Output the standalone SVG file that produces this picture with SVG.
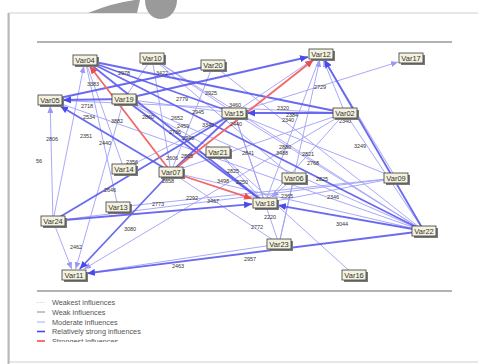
<svg xmlns="http://www.w3.org/2000/svg" width="478" height="364" viewBox="0 0 478 364">
<defs>
<style>
.m{stroke:#a0a0f7;stroke-width:1;fill:none;stroke-opacity:.9}
.s{stroke:#5a5af0;stroke-width:1.8;fill:none;stroke-opacity:.9}
.r{stroke:#f36868;stroke-width:1.8;fill:none}
.lbl{font-family:"Liberation Sans",Arial,sans-serif;font-size:5.5px;fill:#333;text-anchor:middle;dominant-baseline:central}
.nt{font-family:"Liberation Sans",Arial,sans-serif;font-size:7.5px;fill:#333;text-anchor:middle;dominant-baseline:central}
.box{fill:#f4f2de;stroke:#3a3a3a;stroke-width:.8}
.sh{fill:#7a7a7a}
.lg{font-family:"Liberation Sans",Arial,sans-serif;font-size:7.3px;fill:#555;dominant-baseline:central}
</style>
<marker id="am" markerUnits="userSpaceOnUse" markerWidth="7" markerHeight="6" refX="7" refY="3" orient="auto"><path d="M0,0 L7,3 L0,6 z" fill="#9a9af6"/></marker>
<marker id="as" markerUnits="userSpaceOnUse" markerWidth="8" markerHeight="7" refX="8" refY="3.5" orient="auto"><path d="M0,0 L8,3.5 L0,7 z" fill="#4a4aee"/></marker>
<marker id="ar" markerUnits="userSpaceOnUse" markerWidth="8" markerHeight="7" refX="8" refY="3.5" orient="auto"><path d="M0,0 L8,3.5 L0,7 z" fill="#f04a4a"/></marker>
<clipPath id="legclip"><rect x="0" y="0" width="478" height="342"/></clipPath>
</defs>
<rect width="478" height="364" fill="#fff"/>
<!-- card -->
<rect x="9" y="13" width="475" height="349" fill="#fff" stroke="#d0d0d0" stroke-width="1"/>
<line x1="8.5" y1="13" x2="8.5" y2="364" stroke="#b8b8b8" stroke-width="2"/>
<!-- top blob -->
<path d="M88,13 Q112,3 135,0 L140,0 L137,13 Z" fill="#9a9a9a"/>
<path d="M145,0 C145,12 152,19 161,19 C170,19 177,10 177,0 Z" fill="#9a9a9a"/>
<line x1="37" y1="42" x2="452" y2="42" stroke="#9a9a9a" stroke-width="1.6"/>
<line x1="37" y1="291" x2="452" y2="291" stroke="#9a9a9a" stroke-width="1.6"/>

<g id="connectors">
<!-- moderate -->
<line class="m" x1="396" y1="178" x2="324.6" y2="60" marker-end="url(#am)"/>
<line class="m" x1="279" y1="244" x2="319.7" y2="60" marker-end="url(#am)"/>
<line class="m" x1="53" y1="221" x2="71.7" y2="269" marker-end="url(#am)"/>
<line class="m" x1="124" y1="99" x2="75.7" y2="269" marker-end="url(#am)"/>
<line class="m" x1="345" y1="113" x2="84" y2="269" marker-end="url(#am)"/>
<line class="m" x1="53" y1="221" x2="50.2" y2="106" marker-end="url(#am)"/>
<line class="m" x1="53" y1="221" x2="83.8" y2="66" marker-end="url(#am)"/>
<line class="m" x1="118" y1="207" x2="396" y2="178"/>
<line class="m" x1="152" y1="58" x2="124" y2="99"/>
<line class="m" x1="152" y1="58" x2="171" y2="172"/>
<line class="m" x1="152" y1="58" x2="234" y2="113"/>
<line class="m" x1="152" y1="58" x2="294" y2="178"/>
<line class="m" x1="213" y1="65" x2="171" y2="172"/>
<line class="m" x1="213" y1="65" x2="424" y2="231"/>
<line class="m" x1="124" y1="99" x2="234" y2="113"/>
<line class="m" x1="234" y1="113" x2="398" y2="62" marker-end="url(#am)"/>
<line class="m" x1="234" y1="113" x2="396" y2="178"/>
<line class="m" x1="234" y1="113" x2="279" y2="244"/>
<line class="m" x1="234" y1="113" x2="424" y2="231"/>
<line class="m" x1="171" y1="172" x2="279" y2="244"/>
<line class="m" x1="294" y1="178" x2="279" y2="244"/>
<line class="m" x1="279" y1="244" x2="74" y2="275"/>
<line class="m" x1="218" y1="152" x2="354" y2="275"/>
<line class="m" x1="294" y1="178" x2="272" y2="197" marker-end="url(#am)"/>
<line class="m" x1="218" y1="152" x2="265" y2="203"/>
<line class="m" x1="124" y1="99" x2="218" y2="152"/>
<line class="m" x1="124" y1="169" x2="234" y2="113"/>
<line class="m" x1="85" y1="60" x2="124" y2="169"/>
<line class="m" x1="85" y1="60" x2="118" y2="207"/>
<line class="m" x1="345" y1="113" x2="323.4" y2="60" marker-end="url(#am)"/>
<line class="m" x1="345" y1="113" x2="424" y2="231"/>
<line class="m" x1="50" y1="100" x2="424" y2="231"/>
<line class="m" x1="124" y1="99" x2="424" y2="231"/>
<line class="m" x1="265" y1="203" x2="396" y2="178"/>
<line class="m" x1="152" y1="58" x2="424" y2="231"/>
<line class="m" x1="171" y1="172" x2="424" y2="231"/>
<line class="m" x1="171" y1="172" x2="345" y2="113"/>
<line class="m" x1="50" y1="100" x2="345" y2="113"/>
<line class="m" x1="234" y1="113" x2="312.2" y2="60" marker-end="url(#am)"/>
<line class="m" x1="321" y1="54" x2="265" y2="203"/>
<line class="m" x1="345" y1="113" x2="265" y2="203"/>
<line class="m" x1="234" y1="113" x2="265" y2="203"/>
<line class="m" x1="53" y1="221" x2="396" y2="178"/>
<!-- relatively strong -->
<line class="s" x1="124" y1="99" x2="308" y2="57" marker-end="url(#as)"/>
<line class="s" x1="424" y1="231" x2="324.5" y2="60" marker-end="url(#as)"/>
<line class="s" x1="171" y1="172" x2="79.7" y2="269" marker-end="url(#as)"/>
<line class="s" x1="424" y1="231" x2="87" y2="273.4" marker-end="url(#as)"/>
<line class="s" x1="53" y1="221" x2="252" y2="204.1" marker-end="url(#as)"/>
<line class="s" x1="124" y1="99" x2="63" y2="100" marker-end="url(#as)"/>
<line class="s" x1="171" y1="172" x2="60.1" y2="106" marker-end="url(#as)"/>
<line class="s" x1="345" y1="113" x2="247" y2="113" marker-end="url(#as)"/>
<line class="s" x1="85" y1="60" x2="234" y2="113"/>
<line class="s" x1="85" y1="60" x2="265" y2="203"/>
<line class="s" x1="124" y1="99" x2="265" y2="203"/>
<line class="s" x1="424" y1="231" x2="278" y2="205.3" marker-end="url(#as)"/>
<line class="s" x1="171" y1="172" x2="234" y2="113"/>
<line class="s" x1="53" y1="221" x2="234" y2="113"/>
<line class="s" x1="85" y1="60" x2="424" y2="231"/>
<line class="s" x1="85" y1="60" x2="345" y2="113"/>
<line class="s" x1="50" y1="100" x2="213" y2="65"/>
<!-- strongest -->
<line class="r" x1="171" y1="172" x2="89.6" y2="66" marker-end="url(#ar)"/>
<line class="r" x1="171" y1="172" x2="252" y2="198.7" marker-end="url(#ar)"/>
<line class="r" x1="171" y1="172" x2="313.4" y2="60" marker-end="url(#ar)"/>
</g>

<g id="edge-labels">
<text class="lbl" x="124" y="73">2978</text>
<text class="lbl" x="162" y="73">3422</text>
<text class="lbl" x="93" y="84">3383</text>
<text class="lbl" x="87" y="106">2718</text>
<text class="lbl" x="89" y="117">2534</text>
<text class="lbl" x="117" y="121">3882</text>
<text class="lbl" x="148" y="117">2860</text>
<text class="lbl" x="86" y="136">2351</text>
<text class="lbl" x="52" y="139">2806</text>
<text class="lbl" x="39" y="161">56</text>
<text class="lbl" x="105" y="143">2440</text>
<text class="lbl" x="182" y="99">2779</text>
<text class="lbl" x="211" y="93">2925</text>
<text class="lbl" x="177" y="118">2652</text>
<text class="lbl" x="198" y="112">2945</text>
<text class="lbl" x="235" y="104.5">3460</text>
<text class="lbl" x="183" y="126">2459</text>
<text class="lbl" x="208" y="125">3340</text>
<text class="lbl" x="236" y="124">2440</text>
<text class="lbl" x="175" y="132">2736</text>
<text class="lbl" x="188" y="138">2946</text>
<text class="lbl" x="172" y="158">2606</text>
<text class="lbl" x="187" y="156">2805</text>
<text class="lbl" x="283" y="108">2320</text>
<text class="lbl" x="292" y="115">2384</text>
<text class="lbl" x="288" y="120">2340</text>
<text class="lbl" x="345" y="121">2340</text>
<text class="lbl" x="248" y="153">2841</text>
<text class="lbl" x="285" y="147">2880</text>
<text class="lbl" x="282" y="153">3488</text>
<text class="lbl" x="308" y="154">2821</text>
<text class="lbl" x="313" y="163">2768</text>
<text class="lbl" x="322" y="179">2825</text>
<text class="lbl" x="233" y="171">2825</text>
<text class="lbl" x="223" y="181">3498</text>
<text class="lbl" x="242" y="182">2250</text>
<text class="lbl" x="192" y="198">2292</text>
<text class="lbl" x="213" y="201">3467</text>
<text class="lbl" x="287" y="196">2365</text>
<text class="lbl" x="270" y="217">2220</text>
<text class="lbl" x="257" y="227">2772</text>
<text class="lbl" x="333" y="197">2346</text>
<text class="lbl" x="360" y="146">3249</text>
<text class="lbl" x="342" y="224">3044</text>
<text class="lbl" x="250" y="259">2957</text>
<text class="lbl" x="178" y="266">2463</text>
<text class="lbl" x="130" y="229">3080</text>
<text class="lbl" x="76" y="247">2462</text>
<text class="lbl" x="158" y="204">2773</text>
<text class="lbl" x="132" y="162">2356</text>
<text class="lbl" x="110" y="190">2646</text>
<text class="lbl" x="168" y="181">2858</text>
<text class="lbl" x="320" y="87">2729</text>
</g>

<g id="Var04"><rect class="sh" x="75" y="57" width="24" height="10"/><rect class="box" x="73" y="55" width="24" height="10"/><text class="nt" x="85" y="60.3">Var04</text></g>
<g id="Var10"><rect class="sh" x="142" y="55" width="24" height="10"/><rect class="box" x="140" y="53" width="24" height="10"/><text class="nt" x="152" y="58.3">Var10</text></g>
<g id="Var20"><rect class="sh" x="203" y="62" width="24" height="10"/><rect class="box" x="201" y="60" width="24" height="10"/><text class="nt" x="213" y="65.3">Var20</text></g>
<g id="Var12"><rect class="sh" x="311" y="51" width="24" height="10"/><rect class="box" x="309" y="49" width="24" height="10"/><text class="nt" x="321" y="54.3">Var12</text></g>
<g id="Var17"><rect class="sh" x="401" y="55" width="24" height="10"/><rect class="box" x="399" y="53" width="24" height="10"/><text class="nt" x="411" y="58.3">Var17</text></g>
<g id="Var05"><rect class="sh" x="40" y="97" width="24" height="10"/><rect class="box" x="38" y="95" width="24" height="10"/><text class="nt" x="50" y="100.3">Var05</text></g>
<g id="Var19"><rect class="sh" x="114" y="96" width="24" height="10"/><rect class="box" x="112" y="94" width="24" height="10"/><text class="nt" x="124" y="99.3">Var19</text></g>
<g id="Var15"><rect class="sh" x="224" y="110" width="24" height="10"/><rect class="box" x="222" y="108" width="24" height="10"/><text class="nt" x="234" y="113.3">Var15</text></g>
<g id="Var02"><rect class="sh" x="335" y="110" width="24" height="10"/><rect class="box" x="333" y="108" width="24" height="10"/><text class="nt" x="345" y="113.3">Var02</text></g>
<g id="Var21"><rect class="sh" x="208" y="149" width="24" height="10"/><rect class="box" x="206" y="147" width="24" height="10"/><text class="nt" x="218" y="152.3">Var21</text></g>
<g id="Var14"><rect class="sh" x="114" y="166" width="24" height="10"/><rect class="box" x="112" y="164" width="24" height="10"/><text class="nt" x="124" y="169.3">Var14</text></g>
<g id="Var07"><rect class="sh" x="161" y="169" width="24" height="10"/><rect class="box" x="159" y="167" width="24" height="10"/><text class="nt" x="171" y="172.3">Var07</text></g>
<g id="Var06"><rect class="sh" x="284" y="175" width="24" height="10"/><rect class="box" x="282" y="173" width="24" height="10"/><text class="nt" x="294" y="178.3">Var06</text></g>
<g id="Var09"><rect class="sh" x="386" y="175" width="24" height="10"/><rect class="box" x="384" y="173" width="24" height="10"/><text class="nt" x="396" y="178.3">Var09</text></g>
<g id="Var13"><rect class="sh" x="108" y="204" width="24" height="10"/><rect class="box" x="106" y="202" width="24" height="10"/><text class="nt" x="118" y="207.3">Var13</text></g>
<g id="Var18"><rect class="sh" x="255" y="200" width="24" height="10"/><rect class="box" x="253" y="198" width="24" height="10"/><text class="nt" x="265" y="203.3">Var18</text></g>
<g id="Var24"><rect class="sh" x="43" y="218" width="24" height="10"/><rect class="box" x="41" y="216" width="24" height="10"/><text class="nt" x="53" y="221.3">Var24</text></g>
<g id="Var22"><rect class="sh" x="414" y="228" width="24" height="10"/><rect class="box" x="412" y="226" width="24" height="10"/><text class="nt" x="424" y="231.3">Var22</text></g>
<g id="Var23"><rect class="sh" x="269" y="241" width="24" height="10"/><rect class="box" x="267" y="239" width="24" height="10"/><text class="nt" x="279" y="244.3">Var23</text></g>
<g id="Var11"><rect class="sh" x="64" y="272" width="24" height="10"/><rect class="box" x="62" y="270" width="24" height="10"/><text class="nt" x="74" y="275.3">Var11</text></g>
<g id="Var16"><rect class="sh" x="344" y="272" width="24" height="10"/><rect class="box" x="342" y="270" width="24" height="10"/><text class="nt" x="354" y="275.3">Var16</text></g>

<g id="legend">
<line x1="37" y1="302.5" x2="45" y2="302.5" stroke="#d8d8d8" stroke-width="1" stroke-dasharray="1.5,1"/>
<text class="lg" x="52" y="302.5">Weakest influences</text>
<line x1="37" y1="312" x2="45" y2="312" stroke="#8a8a8a" stroke-width="1"/>
<text class="lg" x="52" y="312">Weak influences</text>
<line x1="37" y1="322" x2="45" y2="322" stroke="#a9a9f5" stroke-width="1"/>
<text class="lg" x="52" y="322">Moderate influences</text>
<line x1="37" y1="331.5" x2="45" y2="331.5" stroke="#4646ee" stroke-width="1.6"/>
<text class="lg" x="52" y="331.5">Relatively strong influences</text>
<g clip-path="url(#legclip)">
<line x1="37" y1="341" x2="45" y2="341" stroke="#f05050" stroke-width="1.6"/>
<text class="lg" x="52" y="341.5">Strongest influences</text>
</g>
</g>
</svg>
